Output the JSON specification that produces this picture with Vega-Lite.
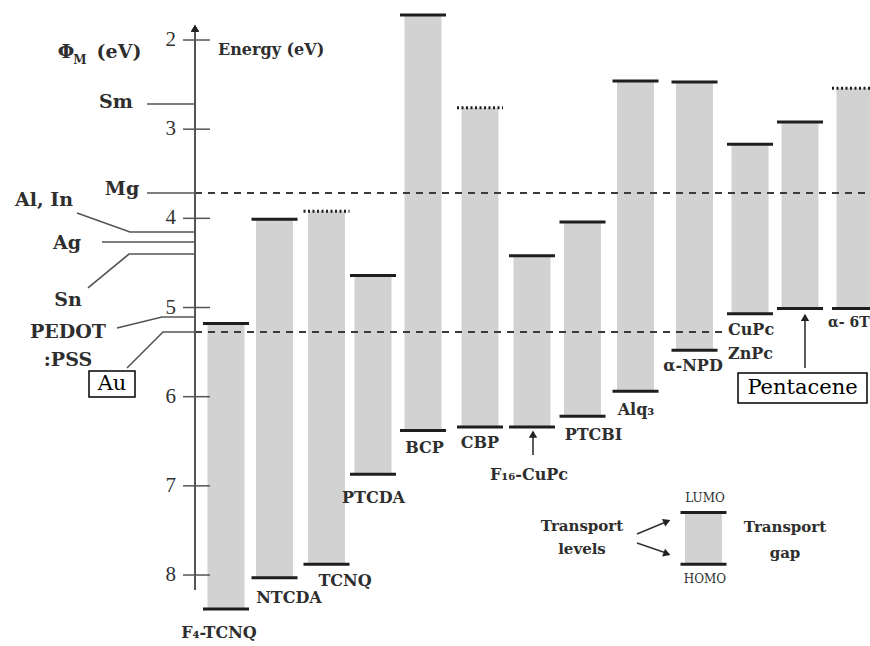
{
  "$schema": "https://vega.github.io/schema/vega-lite/v6.json",
  "width": 870,
  "height": 646,
  "autosize": {"type": "none"},
  "padding": 0,
  "background": "white",
  "config": {"view": {"stroke": null}},
  "datasets": {
    "molecules": [
      {"name": "F4-TCNQ", "pos": 226, "lumo": 5.18, "homo": 8.38, "lumoKind": "measured"},
      {"name": "NTCDA", "pos": 274.5, "lumo": 4.01, "homo": 8.03, "lumoKind": "measured"},
      {"name": "TCNQ", "pos": 326.5, "lumo": 3.92, "homo": 7.88, "lumoKind": "estimated"},
      {"name": "PTCDA", "pos": 373, "lumo": 4.64, "homo": 6.87, "lumoKind": "measured"},
      {"name": "BCP", "pos": 423, "lumo": 1.72, "homo": 6.38, "lumoKind": "measured"},
      {"name": "CBP", "pos": 480, "lumo": 2.76, "homo": 6.34, "lumoKind": "estimated"},
      {"name": "F16-CuPc", "pos": 532, "lumo": 4.42, "homo": 6.34, "lumoKind": "measured"},
      {"name": "PTCBI", "pos": 582.5, "lumo": 4.04, "homo": 6.22, "lumoKind": "measured"},
      {"name": "Alq3", "pos": 635.5, "lumo": 2.46, "homo": 5.94, "lumoKind": "measured"},
      {"name": "α-NPD", "pos": 694.5, "lumo": 2.47, "homo": 5.48, "lumoKind": "measured"},
      {"name": "CuPc", "pos": 750, "lumo": 3.17, "homo": 5.07, "lumoKind": "measured"},
      {"name": "Pentacene", "pos": 800, "lumo": 2.92, "homo": 5.01, "lumoKind": "measured"},
      {"name": "α-6T", "pos": 855, "lumo": 2.54, "homo": 5.01, "lumoKind": "estimated"},
      {"name": "key", "pos": 703.5, "lumo": 7.3, "homo": 7.88, "lumoKind": "measured"}
    ],
    "ticks": [{"e": 2}, {"e": 3}, {"e": 4}, {"e": 5}, {"e": 6}, {"e": 7}, {"e": 8}],
    "metalLines": [
      {"metal": "Sm", "ord": 1, "x": 147, "e": 2.718},
      {"metal": "Sm", "ord": 2, "x": 195, "e": 2.718},
      {"metal": "Mg", "ord": 1, "x": 147, "e": 3.716},
      {"metal": "Mg", "ord": 2, "x": 195, "e": 3.716},
      {"metal": "Al, In", "ord": 1, "x": 77, "e": 3.94},
      {"metal": "Al, In", "ord": 2, "x": 130, "e": 4.153},
      {"metal": "Al, In", "ord": 3, "x": 195, "e": 4.153},
      {"metal": "Ag", "ord": 1, "x": 102, "e": 4.265},
      {"metal": "Ag", "ord": 2, "x": 195, "e": 4.265},
      {"metal": "Sn", "ord": 1, "x": 88, "e": 4.781},
      {"metal": "Sn", "ord": 2, "x": 129, "e": 4.4},
      {"metal": "Sn", "ord": 3, "x": 195, "e": 4.4},
      {"metal": "PEDOT:PSS", "ord": 1, "x": 117, "e": 5.23},
      {"metal": "PEDOT:PSS", "ord": 2, "x": 162, "e": 5.106},
      {"metal": "PEDOT:PSS", "ord": 3, "x": 195, "e": 5.106},
      {"metal": "Au", "ord": 1, "x": 127, "e": 5.678},
      {"metal": "Au", "ord": 2, "x": 163, "e": 5.275},
      {"metal": "Au", "ord": 3, "x": 195, "e": 5.275}
    ],
    "dashed": [
      {"metal": "Mg", "from": 195, "to": 870, "e": 3.716},
      {"metal": "Au", "from": 195, "to": 725, "e": 5.275}
    ],
    "arrows": [
      {"x1": 533, "e1": 6.654, "x2": 533, "e2": 6.45},
      {"x1": 805, "e1": 5.678, "x2": 805, "e2": 5.14},
      {"x1": 637, "e1": 7.54, "x2": 664, "e2": 7.415},
      {"x1": 637, "e1": 7.641, "x2": 664, "e2": 7.745}
    ],
    "heads": [
      {"x": 533, "e": 6.42, "heading": 0},
      {"x": 805, "e": 5.11, "heading": 0},
      {"x": 667, "e": 7.398, "heading": 67},
      {"x": 667, "e": 7.762, "heading": 110}
    ],
    "boxes": [
      {"x1": 89, "x2": 135, "e1": 5.712, "e2": 6.004},
      {"x1": 738, "x2": 867, "e1": 5.734, "e2": 6.071}
    ],
    "boxText": [
      {"t": "Au", "x": 112, "e": 5.858},
      {"t": "Pentacene", "x": 802.5, "e": 5.903}
    ],
    "molLabels": [
      {"t": "F₄-TCNQ", "x": 219, "e": 8.65},
      {"t": "NTCDA", "x": 289, "e": 8.258},
      {"t": "TCNQ", "x": 345, "e": 8.067},
      {"t": "PTCDA", "x": 373.5, "e": 7.136},
      {"t": "BCP", "x": 424.5, "e": 6.575},
      {"t": "CBP", "x": 480, "e": 6.519},
      {"t": "F₁₆-CuPc", "x": 529, "e": 6.878},
      {"t": "PTCBI", "x": 593.5, "e": 6.43},
      {"t": "Alq₃", "x": 636, "e": 6.149},
      {"t": "α-NPD", "x": 693, "e": 5.656}
    ],
    "molLabelsLeft": [
      {"t": "CuPc", "x": 728, "e": 5.252},
      {"t": "ZnPc", "x": 728, "e": 5.521}
    ],
    "edgeLabels": [
      {"t": "α- 6T", "x": 828, "e": 5.174}
    ],
    "leftLabels": [
      {"t": "Φ", "x": 66, "e": 2.135},
      {"t": "(eV)", "x": 119, "e": 2.135},
      {"t": "Sm", "x": 116, "e": 2.695},
      {"t": "Mg", "x": 122, "e": 3.671},
      {"t": "Al, In", "x": 44, "e": 3.794},
      {"t": "Ag", "x": 67, "e": 4.277},
      {"t": "Sn", "x": 68, "e": 4.916},
      {"t": "PEDOT", "x": 68, "e": 5.275},
      {"t": ":PSS", "x": 68, "e": 5.589}
    ],
    "subLabels": [{"t": "M", "x": 80, "e": 2.224}],
    "axisTitle": [{"t": "Energy (eV)", "x": 218, "e": 2.112}],
    "keySmall": [
      {"t": "LUMO", "x": 705, "e": 7.136},
      {"t": "HOMO", "x": 705, "e": 8.045}
    ],
    "keyBold": [
      {"t": "Transport", "x": 582, "e": 7.45},
      {"t": "levels", "x": 582, "e": 7.708},
      {"t": "Transport", "x": 785, "e": 7.462},
      {"t": "gap", "x": 785, "e": 7.753}
    ]
  },
  "layer": [
    {
      "data": {"name": "molecules"},
      "mark": {"type": "rect", "color": "#d2d2d2", "xOffset": -18.5, "x2Offset": 18.5},
      "encoding": {
        "x": {"field": "pos", "type": "quantitative", "scale": {"domain": [0, 870], "nice": false, "zero": false}, "axis": null},
        "x2": {"field": "pos"},
        "y": {"field": "lumo", "type": "quantitative", "scale": {"domain": [1.5514, 8.796], "reverse": true, "nice": false, "zero": false}, "axis": null},
        "y2": {"field": "homo"}
      }
    },
    {
      "data": {"name": "molecules"},
      "mark": {"type": "rule", "color": "#1e1e1e", "strokeWidth": 3, "xOffset": -23, "x2Offset": 23},
      "encoding": {
        "x": {"field": "pos", "type": "quantitative"},
        "x2": {"field": "pos"},
        "y": {"field": "lumo", "type": "quantitative"},
        "strokeDash": {"field": "lumoKind", "type": "nominal", "scale": {"domain": ["measured", "estimated"], "range": [[1, 0], [2, 2.5]]}, "legend": null}
      }
    },
    {
      "data": {"name": "molecules"},
      "mark": {"type": "rule", "color": "#1e1e1e", "strokeWidth": 3, "xOffset": -23, "x2Offset": 23},
      "encoding": {
        "x": {"field": "pos", "type": "quantitative"},
        "x2": {"field": "pos"},
        "y": {"field": "homo", "type": "quantitative"}
      }
    },
    {
      "data": {"name": "dashed"},
      "mark": {"type": "rule", "color": "#3a3a3a", "strokeWidth": 2, "strokeDash": [7, 6]},
      "encoding": {
        "x": {"field": "from", "type": "quantitative"},
        "x2": {"field": "to"},
        "y": {"field": "e", "type": "quantitative"}
      }
    },
    {
      "data": {"name": "metalLines"},
      "mark": {"type": "line", "color": "#555555", "strokeWidth": 1.6},
      "encoding": {
        "x": {"field": "x", "type": "quantitative"},
        "y": {"field": "e", "type": "quantitative"},
        "detail": {"field": "metal", "type": "nominal"},
        "order": {"field": "ord", "type": "quantitative"}
      }
    },
    {
      "data": {"name": "ticks"},
      "mark": {"type": "rule", "color": "#555555", "strokeWidth": 1.5},
      "encoding": {
        "x": {"datum": 183, "type": "quantitative"},
        "x2": {"datum": 210},
        "y": {"field": "e", "type": "quantitative"}
      }
    },
    {
      "data": {"name": "ticks"},
      "mark": {"type": "rule", "color": "#555555", "strokeWidth": 1.5},
      "encoding": {
        "x": {"datum": 195, "type": "quantitative"},
        "y": {"datum": 1.9, "type": "quantitative"},
        "y2": {"datum": 8.168}
      }
    },
    {
      "data": {"name": "ticks"},
      "mark": {"type": "point", "shape": "triangle-up", "filled": true, "color": "#222222", "size": 55, "opacity": 1},
      "encoding": {
        "x": {"datum": 195, "type": "quantitative"},
        "y": {"datum": 1.87, "type": "quantitative"}
      }
    },
    {
      "data": {"name": "ticks"},
      "mark": {"type": "text", "align": "right", "baseline": "middle", "font": "Liberation Serif", "fontSize": 21, "color": "#333333"},
      "encoding": {
        "x": {"datum": 176, "type": "quantitative"},
        "y": {"field": "e", "type": "quantitative"},
        "text": {"field": "e", "type": "quantitative"}
      }
    },
    {
      "data": {"name": "arrows"},
      "mark": {"type": "rule", "color": "#333333", "strokeWidth": 1.6},
      "encoding": {
        "x": {"field": "x1", "type": "quantitative"},
        "x2": {"field": "x2"},
        "y": {"field": "e1", "type": "quantitative"},
        "y2": {"field": "e2"}
      }
    },
    {
      "data": {"name": "heads"},
      "mark": {"type": "point", "shape": "triangle-up", "filled": true, "color": "#222222", "size": 70, "opacity": 1},
      "encoding": {
        "x": {"field": "x", "type": "quantitative"},
        "y": {"field": "e", "type": "quantitative"},
        "angle": {"field": "heading", "type": "quantitative", "scale": null}
      }
    },
    {
      "data": {"name": "boxes"},
      "mark": {"type": "rect", "fill": "white", "stroke": "#000000", "strokeWidth": 1.5},
      "encoding": {
        "x": {"field": "x1", "type": "quantitative"},
        "x2": {"field": "x2"},
        "y": {"field": "e1", "type": "quantitative"},
        "y2": {"field": "e2"}
      }
    },
    {
      "data": {"name": "boxText"},
      "mark": {"type": "text", "align": "center", "baseline": "middle", "font": "DejaVu Serif", "fontSize": 21, "color": "#000000"},
      "encoding": {
        "x": {"field": "x", "type": "quantitative"},
        "y": {"field": "e", "type": "quantitative"},
        "text": {"field": "t"}
      }
    },
    {
      "data": {"name": "molLabels"},
      "mark": {"type": "text", "align": "center", "baseline": "middle", "font": "DejaVu Serif", "fontWeight": "bold", "fontSize": 16, "color": "#2e2e2e"},
      "encoding": {
        "x": {"field": "x", "type": "quantitative"},
        "y": {"field": "e", "type": "quantitative"},
        "text": {"field": "t"}
      }
    },
    {
      "data": {"name": "molLabelsLeft"},
      "mark": {"type": "text", "align": "left", "baseline": "middle", "font": "DejaVu Serif", "fontWeight": "bold", "fontSize": 16, "color": "#2e2e2e"},
      "encoding": {
        "x": {"field": "x", "type": "quantitative"},
        "y": {"field": "e", "type": "quantitative"},
        "text": {"field": "t"}
      }
    },
    {
      "data": {"name": "edgeLabels"},
      "mark": {"type": "text", "align": "left", "baseline": "middle", "font": "DejaVu Serif", "fontWeight": "bold", "fontSize": 14, "color": "#2e2e2e"},
      "encoding": {
        "x": {"field": "x", "type": "quantitative"},
        "y": {"field": "e", "type": "quantitative"},
        "text": {"field": "t"}
      }
    },
    {
      "data": {"name": "leftLabels"},
      "mark": {"type": "text", "align": "center", "baseline": "middle", "font": "DejaVu Serif", "fontWeight": "bold", "fontSize": 19, "color": "#2e2e2e"},
      "encoding": {
        "x": {"field": "x", "type": "quantitative"},
        "y": {"field": "e", "type": "quantitative"},
        "text": {"field": "t"}
      }
    },
    {
      "data": {"name": "subLabels"},
      "mark": {"type": "text", "align": "center", "baseline": "middle", "font": "DejaVu Serif", "fontWeight": "bold", "fontSize": 12, "color": "#2e2e2e"},
      "encoding": {
        "x": {"field": "x", "type": "quantitative"},
        "y": {"field": "e", "type": "quantitative"},
        "text": {"field": "t"}
      }
    },
    {
      "data": {"name": "axisTitle"},
      "mark": {"type": "text", "align": "left", "baseline": "middle", "font": "DejaVu Serif", "fontWeight": "bold", "fontSize": 16, "color": "#2e2e2e"},
      "encoding": {
        "x": {"field": "x", "type": "quantitative"},
        "y": {"field": "e", "type": "quantitative"},
        "text": {"field": "t"}
      }
    },
    {
      "data": {"name": "keySmall"},
      "mark": {"type": "text", "align": "center", "baseline": "middle", "font": "DejaVu Serif", "fontSize": 12, "color": "#2e2e2e"},
      "encoding": {
        "x": {"field": "x", "type": "quantitative"},
        "y": {"field": "e", "type": "quantitative"},
        "text": {"field": "t"}
      }
    },
    {
      "data": {"name": "keyBold"},
      "mark": {"type": "text", "align": "center", "baseline": "middle", "font": "DejaVu Serif", "fontWeight": "bold", "fontSize": 15, "color": "#2e2e2e"},
      "encoding": {
        "x": {"field": "x", "type": "quantitative"},
        "y": {"field": "e", "type": "quantitative"},
        "text": {"field": "t"}
      }
    }
  ]
}
